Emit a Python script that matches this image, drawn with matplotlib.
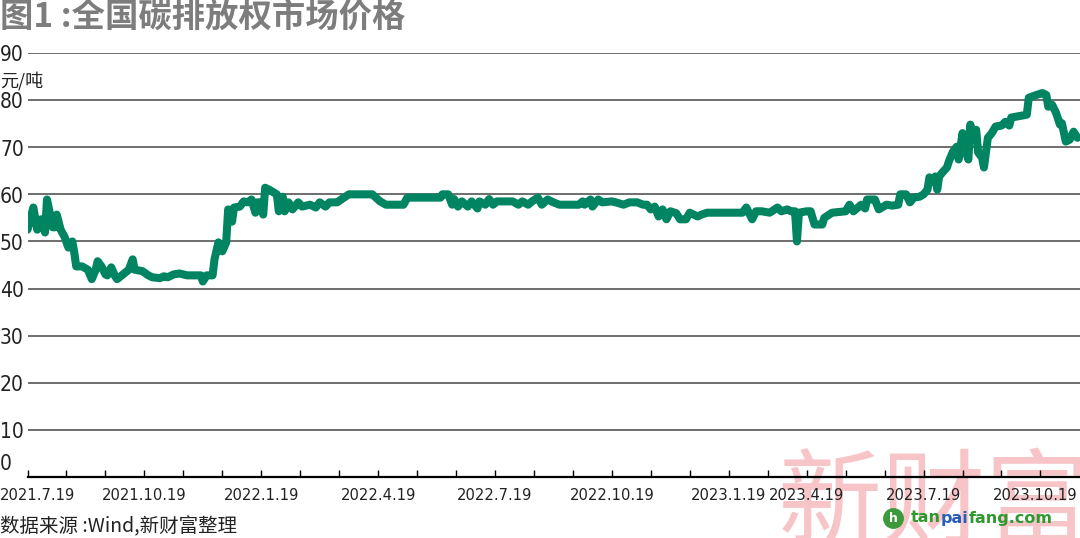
import matplotlib
matplotlib.use("Agg")
import matplotlib.pyplot as plt
from matplotlib import font_manager
from matplotlib.lines import Line2D

# Data: trading-day index (ticks every 20 sessions) and price in 元/吨
day_idx = [
    0, 3, 5, 7, 9, 10, 13, 14, 15, 17, 19, 21, 23, 24, 25, 28, 31, 33, 35, 36,
    38, 40, 41, 43, 45, 46, 49, 52, 54, 55, 59, 62, 64, 68, 70, 72, 75, 78, 82, 89,
    90, 92, 95, 96, 98, 100, 102, 103, 105, 106, 109, 111, 113, 115, 117, 118, 120, 121, 122, 124,
    128, 129, 131, 132, 134, 136, 139, 141, 145, 148, 150, 153, 155, 159, 161, 165, 177, 181, 184, 193,
    195, 212, 213, 216, 218, 219, 221, 223, 226, 228, 231, 232, 235, 237, 239, 241, 249, 252, 254, 257,
    259, 262, 264, 267, 270, 273, 283, 285, 286, 289, 290, 293, 295, 300, 302, 306, 309, 313, 316, 318,
    320, 322, 324, 326, 328, 330, 333, 335, 338, 340, 344, 346, 349, 367, 369, 372, 374, 377, 381, 385,
    387, 390, 392, 394, 395, 396, 400, 402, 404, 408, 409, 413, 420, 422, 424, 428, 430, 431, 435, 437,
    441, 444, 447, 448, 451, 453, 455, 458, 460, 462, 463, 464, 466, 467, 468, 470, 472, 473, 475, 477,
    478, 480, 481, 483, 484, 485, 487, 488, 490, 491, 493, 495, 497, 500, 502, 504, 505, 513, 514, 518,
    521, 523, 524, 526, 528, 530, 531, 533, 535, 537, 539,
]
price = [
    52.5, 57.2, 52.5, 54.7, 51.9, 58.9, 53.0, 53.0, 55.7, 52.5, 51.0, 48.7, 50.0, 47.7, 44.7, 44.7, 44.0, 42.0, 44.0, 45.8,
    44.7, 43.0, 42.8, 44.5, 42.6, 42.0, 43.0, 44.0, 46.2, 44.0, 43.7, 42.8, 42.4, 42.2, 42.6, 42.4, 43.0, 43.2, 42.8, 42.8,
    41.5, 42.8, 42.8, 46.2, 49.8, 47.9, 49.8, 56.8, 54.2, 57.2, 57.4, 58.5, 58.3, 58.9, 56.1, 58.3, 58.3, 55.7, 61.4, 61.0,
    60.0, 56.4, 59.5, 56.4, 58.3, 56.8, 58.3, 57.4, 57.8, 57.2, 58.3, 57.4, 58.3, 58.3, 58.9, 60.0, 60.0, 58.5, 57.8, 57.8,
    59.3, 59.3, 60.0, 60.0, 57.8, 59.0, 57.4, 58.5, 57.4, 58.5, 57.0, 58.5, 57.8, 59.0, 57.8, 58.5, 58.5, 57.8, 58.5, 57.8,
    58.5, 59.3, 57.8, 58.9, 58.3, 57.8, 57.8, 58.5, 57.8, 58.9, 57.4, 58.9, 58.3, 58.5, 58.3, 57.8, 58.3, 58.3, 57.8, 57.8,
    56.8, 57.4, 55.3, 56.8, 54.7, 56.4, 56.0, 54.7, 54.7, 56.1, 55.3, 55.7, 56.1, 56.1, 57.2, 54.7, 56.4, 56.4, 56.1, 57.2,
    56.4, 56.8, 56.4, 56.4, 50.0, 56.1, 56.4, 56.4, 53.6, 53.6, 55.0, 56.1, 56.4, 57.8, 56.4, 57.8, 57.0, 58.9, 58.9, 56.8,
    57.8, 57.6, 57.8, 60.0, 60.0, 58.3, 59.3, 59.5, 60.0, 61.0, 63.6, 62.7, 63.8, 61.0, 63.8, 64.8, 65.7, 67.0, 69.0, 70.1,
    67.4, 73.0, 70.0, 67.4, 74.8, 72.2, 73.7, 68.9, 67.8, 65.7, 72.0, 73.0, 74.4, 74.6, 75.4, 74.6, 76.3, 76.9, 80.5, 81.1,
    81.5, 81.1, 78.6, 79.0, 77.3, 74.8, 75.1, 71.2, 71.6, 73.3, 72.0,
]

tick_idx = list(range(0, 521, 20))
label_idx = [0, 60, 120, 180, 240, 300, 360, 400, 460, 520]
label_txt = ["2021.7.19", "2021.10.19", "2022.1.19", "2022.4.19", "2022.7.19",
             "2022.10.19", "2023.1.19", "2023.4.19", "2023.7.19", "2023.10.19"]
y_ticks = [0, 10, 20, 30, 40, 50, 60, 70, 80, 90]

GREEN = "#008461"
CJK = "Noto Sans CJK SC"
plt.rcParams["font.family"] = [CJK, "DejaVu Sans"]


# look for a narrow face for the numbers, else fall back to Liberation Sans
def pick_num_font():
    fl = font_manager.fontManager.ttflist
    for f in fl:
        if f.name == "Liberation Sans Narrow" and f.style == "normal" and f.weight in (400, "normal", "regular"):
            return f.fname, True
    for f in fl:
        if (f.stretch in ("condensed", "semi-condensed", "extra-condensed")
                and f.style == "normal" and f.weight in (400, "normal", "regular")
                and "Sans" in f.name):
            return f.fname, True
    return None, False


num_path, narrow = pick_num_font()
XSIZE = 11.8 if narrow else 12
YSIZE = 15 if narrow else 13.5


def num_props(size):
    if num_path:
        return font_manager.FontProperties(fname=num_path, size=size)
    return font_manager.FontProperties(family="Liberation Sans", size=size)


fig = plt.figure(figsize=(10.8, 5.38), dpi=100)
ax = fig.add_axes([27.5 / 1080, 1 - 477 / 538, 1 - 27.5 / 1080, (477 - 53) / 538])
ax.set_zorder(2)

# watermark behind everything
fig.text(934 / 1080, 1 - 536 / 538, "新财富", fontsize=75, color="#f7c4c8",
         ha="center", va="baseline", family=[CJK], zorder=-1)

for v in y_ticks[1:]:
    ax.axhline(v, color="#555555", lw=1.2, zorder=1)

ax.plot(day_idx, price, color=GREEN, lw=5.8, solid_joinstyle="round",
        solid_capstyle="round", zorder=3)

ax.set_xlim(0, 540.3)
ax.set_ylim(0, 90)
for s in ["top", "right", "left"]:
    ax.spines[s].set_visible(False)
ax.spines["bottom"].set_linewidth(1.6)
ax.spines["bottom"].set_color("black")
ax.set_yticks([])
ax.set_xticks(tick_idx)
ax.set_xticklabels([])
ax.tick_params(axis="x", direction="in", length=5, width=1, color="black")
ax.patch.set_alpha(0)

# y labels sit at the far left of the figure
trans_y = ax.get_yaxis_transform()
for v in y_ticks:
    yy = 2.8 if v == 0 else v - 0.5
    ax.text(-27.5 / 1052.5, yy, str(v), transform=trans_y, ha="left", va="center",
            fontproperties=num_props(YSIZE), color="#222222", clip_on=False)
ax.text(-27.5 / 1052.5, 84, "元/吨", transform=trans_y, ha="left", va="center",
        fontsize=13, color="#222222", clip_on=False)

# x labels
trans_x = ax.get_xaxis_transform()
for i, t in zip(label_idx, label_txt):
    if i == 0:
        fig.text(0, 1 - 495 / 538, t, ha="left", va="center",
                 fontproperties=num_props(XSIZE), color="#222222")
    elif i == label_idx[-1]:
        fig.text(1078 / 1080, 1 - 495 / 538, t, ha="right", va="center",
                 fontproperties=num_props(XSIZE), color="#222222")
    else:
        ax.text(i, -18 / 424, t, transform=trans_x, ha="center", va="center",
                fontproperties=num_props(XSIZE), color="#222222", clip_on=False)

fig.text(0, 1 - 18 / 538, "图1 :全国碳排放权市场价格", fontsize=24, fontweight="bold",
         color="#7d7d7d", ha="left", va="center")
fig.text(0, 1 - 527 / 538, "数据来源 :Wind,新财富整理", fontsize=14,
         color="#222222", ha="left", va="center")

# site logo, bottom right
fig.add_artist(Line2D([893 / 1080], [1 - 518 / 538], marker="o", ms=14, color="#3c9a3c",
                      transform=fig.transFigure, zorder=5))
fig.text(893 / 1080, 1 - 519 / 538, "h", fontsize=9, fontweight="bold", color="white",
         ha="center", va="center", family=["DejaVu Sans"], zorder=6)
logo_parts = [("tan", "#2e9a2e"), ("pai", "#2a5cb8"), ("fang.com", "#2e9a2e")]
x0 = 911 / 1080
r = fig.canvas.get_renderer()
for txt, col in logo_parts:
    t = fig.text(x0, 1 - 518 / 538, txt, fontsize=11.5, fontweight="heavy", color=col,
                 ha="left", va="center", family=["DejaVu Sans"], zorder=6)
    bb = t.get_window_extent(renderer=r)
    x0 += bb.width / fig.bbox.width

fig.savefig("out.png", dpi=100)
